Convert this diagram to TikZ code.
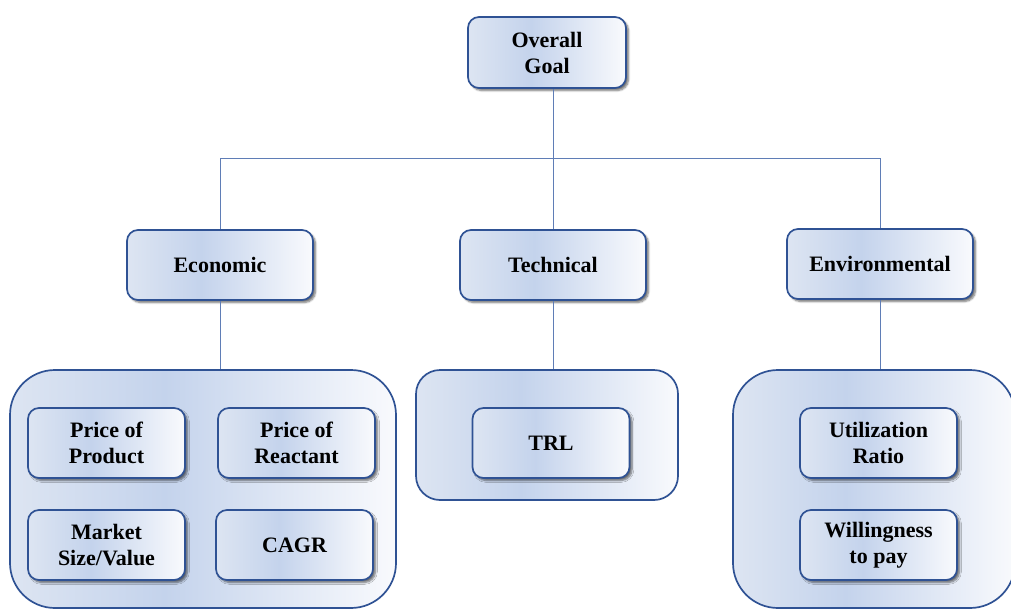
\documentclass[tikz,border=0pt]{standalone}
\usepackage{fontspec}
\setmainfont{Liberation Serif}
\usetikzlibrary{shadows.blur}
\definecolor{edge}{HTML}{2F5294}
\definecolor{wire}{HTML}{5F7DB6}
\definecolor{shL}{HTML}{DDE5F2}
\definecolor{shM}{HTML}{C4D3EC}
\definecolor{shR}{HTML}{F9FAFD}
% light-to-blue-to-white fill used by every box
\pgfdeclarehorizontalshading{boxfill}{100bp}{%
  color(0bp)=(shL); color(25bp)=(shL); color(45bp)=(shM);
  color(75bp)=(shR); color(100bp)=(shR)}
\tikzset{
  card/.style={draw=edge, line width=1.7pt, rounded corners=11pt,
    shading=boxfill,
    blur shadow={shadow xshift=2.5pt, shadow yshift=-2.5pt, shadow blur steps=6, shadow opacity=55},
    minimum width=186pt, minimum height=70pt, align=center,
    font=\fontsize{22}{26}\selectfont\bfseries, inner sep=0pt},
  leaf/.style={card, minimum width=157pt},
  group/.style={draw=edge, line width=1.7pt, rounded corners=#1,
    shading=boxfill, inner sep=0pt},
  link/.style={draw=wire, line width=0.9pt}
}
\begin{document}
\begin{tikzpicture}[x=1pt, y=-1pt]
\useasboundingbox (0,0) rectangle (1011,610);
\clip (0,0) rectangle (1011,610);
% top level
\node[card, minimum width=158pt, minimum height=71pt] (goal) at (547,52.5) {Overall\\Goal};
% criteria
\node[card] (econ) at (220,265) {Economic};
\node[card] (tech) at (553,265) {Technical};
\node[card] (env)  at (880,264) {Environmental};
% groups of indicators
\node[group=45pt, minimum width=386pt, minimum height=238pt] (egrp) at (203,489) {};
\node[group=24pt, minimum width=262pt, minimum height=130pt] (tgrp) at (547,435) {};
\node[group=45pt, minimum width=282pt, minimum height=238pt] (vgrp) at (874,489) {};
% indicators
\node[leaf] (pprod) at (106.5,443) {Price of\\Product};
\node[leaf] (preac) at (296.5,443) {Price of\\Reactant};
\node[leaf] (mkt)   at (106.5,545) {Market\\Size/Value};
\node[leaf] (cagr)  at (294.5,545) {CAGR};
\node[leaf] (trl)   at (551,443) {TRL};
\node[leaf] (util)  at (878.5,443) {Utilization\\Ratio};
\node[leaf] (wtp)   at (878.5,545) {Willingness\\to pay};
% connectors
\coordinate (bus) at (553,158);
\draw[link] (tech.north |- goal.south) -- (tech.north);
\draw[link] (econ.north) -- (econ.north |- bus) -- (env.north |- bus) -- (env.north);
\draw[link] (econ.south) -- (econ.south |- egrp.north);
\draw[link] (tech.south) -- (tech.south |- tgrp.north);
\draw[link] (env.south) -- (env.south |- vgrp.north);
\end{tikzpicture}
\end{document}
